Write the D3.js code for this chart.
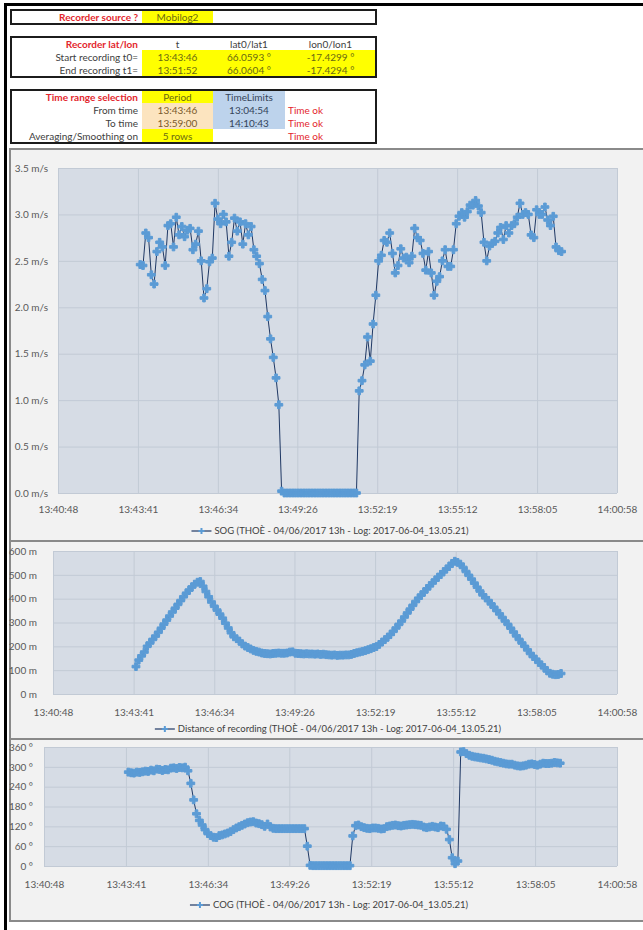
<!DOCTYPE html>
<html><head><meta charset="utf-8">
<script src="https://cdn.jsdelivr.net/npm/d3@7"></script>
<style>
html,body{margin:0;padding:0;background:#fff;overflow:hidden;}
svg{display:block;font-family:Lato,"Open Sans",sans-serif;}
</style></head><body>
<svg id="c" width="643" height="930"></svg>
<script>
// ---------------- DATA ----------------
const times = [
"13:43:46","13:43:52","13:43:58","13:44:04","13:44:10","13:44:16","13:44:22","13:44:28","13:44:34","13:44:40",
"13:44:46","13:44:52","13:44:58","13:45:04","13:45:10","13:45:16","13:45:22","13:45:28","13:45:34","13:45:40",
"13:45:46","13:45:52","13:45:58","13:46:04","13:46:10","13:46:16","13:46:22","13:46:28","13:46:34","13:46:40",
"13:46:46","13:46:52","13:46:58","13:47:04","13:47:10","13:47:16","13:47:22","13:47:28","13:47:34","13:47:40",
"13:47:46","13:47:52","13:47:58","13:48:04","13:48:10","13:48:16","13:48:22","13:48:28","13:48:34","13:48:40",
"13:48:46","13:48:52","13:48:58","13:49:04","13:49:10","13:49:16","13:49:22","13:49:28","13:49:34","13:49:40",
"13:49:46","13:49:52","13:49:58","13:50:04","13:50:10","13:50:16","13:50:22","13:50:28","13:50:34","13:50:40",
"13:50:46","13:50:52","13:50:58","13:51:04","13:51:10","13:51:16","13:51:22","13:51:28","13:51:34","13:51:40",
"13:51:46","13:51:52","13:51:58","13:52:04","13:52:10","13:52:16","13:52:22","13:52:28","13:52:34","13:52:40",
"13:52:46","13:52:52","13:52:58","13:53:04","13:53:10","13:53:16","13:53:22","13:53:28","13:53:34","13:53:40",
"13:53:46","13:53:52","13:53:58","13:54:04","13:54:10","13:54:16","13:54:22","13:54:28","13:54:34","13:54:40",
"13:54:46","13:54:52","13:54:58","13:55:04","13:55:10","13:55:16","13:55:22","13:55:28","13:55:34","13:55:40",
"13:55:46","13:55:52","13:55:58","13:56:04","13:56:10","13:56:16","13:56:22","13:56:28","13:56:34","13:56:40",
"13:56:46","13:56:52","13:56:58","13:57:04","13:57:10","13:57:16","13:57:22","13:57:28","13:57:34","13:57:40",
"13:57:46","13:57:52","13:57:58","13:58:04","13:58:10","13:58:16","13:58:22","13:58:28","13:58:34","13:58:40",
"13:58:46","13:58:52","13:58:58"];

const sogValues = [
2.46,2.45,2.80,2.75,2.35,2.25,2.60,2.70,2.65,2.45,
2.88,2.90,2.65,2.97,2.78,2.87,2.76,2.83,2.85,2.62,
2.68,2.82,2.50,2.10,2.20,2.49,2.53,3.12,2.95,2.90,
3.00,2.92,2.55,2.70,2.96,2.82,2.92,2.68,2.90,2.78,
2.87,2.62,2.55,2.47,2.30,2.18,1.90,1.66,1.46,1.24,
0.95,0.02,0,0,0,0,0,0,0,0,
0,0,0,0,0,0,0,0,0,0,
0,0,0,0,0,0,0,0,0,1.10,
1.21,1.38,1.68,1.42,1.82,2.13,2.50,2.56,2.72,2.70,
2.80,2.58,2.37,2.45,2.63,2.53,2.54,2.48,2.55,2.85,
2.75,2.72,2.58,2.40,2.60,2.37,2.13,2.28,2.33,2.50,
2.62,2.44,2.44,2.62,2.90,2.98,3.02,2.97,3.03,3.10,
3.10,3.15,3.09,3.02,2.70,2.50,2.66,2.69,2.71,2.80,
2.86,2.73,2.88,2.80,2.88,2.90,2.97,3.12,3.00,3.02,
3.00,2.78,2.75,3.05,3.00,3.00,3.08,2.94,2.88,2.98,
2.65,2.61,2.60];

const distValues = [
115,142,160,176,200,214,229,243,259,276,
293,310,327,344,360,376,392,408,423,436,
449,461,469,472,452,430,408,386,368,352,
335,318,297,277,257,240,232,222,210,201,
195,189,183,179,176,172,170,169,168,170,
171,172,171,171,172,176,177,171,170,169,
168,169,168,168,167,168,166,167,165,164,
163,164,162,163,163,164,164,166,170,173,
176,179,182,186,190,195,199,208,218,228,
238,250,263,277,292,306,323,340,356,372,
388,402,415,428,441,454,466,478,490,501,
513,524,536,548,557,552,545,531,514,498,
482,465,448,432,416,404,392,378,364,350,
336,321,306,292,276,260,244,229,214,200,
185,170,157,146,133,122,110,97,87,83,
81,82,86];

const cogValues = [
284,282,281,284,283,285,287,286,290,288,
293,292,289,292,291,296,297,295,298,297,
299,288,250,200,158,138,124,110,98,92,
87,86,92,94,97,100,104,110,115,119,
123,127,131,133,134,130,128,125,120,127,
118,114,113,113,113,113,113,113,113,113,
113,113,113,60,2,1,1,1,1,1,
1,1,1,1,1,1,1,1,1,91,
122,124,119,116,114,113,115,115,114,112,
113,119,121,123,124,122,121,123,124,125,
126,125,124,123,118,116,118,120,118,116,
121,120,111,80,25,7,15,345,346,340,
335,332,330,329,327,326,324,322,320,317,
315,313,311,309,308,308,305,303,302,303,
305,308,309,307,305,308,311,310,310,311,
313,312,311];

const xTickLabels = ["13:40:48","13:43:41","13:46:34","13:49:26","13:52:19","13:55:12","13:58:05","14:00:58"];
const sogTicks = [0,0.5,1,1.5,2,2.5,3,3.5];
const distTicks = [0,100,200,300,400,500,600];
const cogTicks = [0,60,120,180,240,300,360];

const sogLegend = "SOG (THOÈ - 04/06/2017 13h - Log: 2017-06-04_13.05.21)";
const distLegend = "Distance of recording (THOÈ - 04/06/2017 13h - Log: 2017-06-04_13.05.21)";
const cogLegend = "COG (THOÈ - 04/06/2017 13h - Log: 2017-06-04_13.05.21)";

// Tables
const sourceRow = ["Recorder source ?", "Mobilog2"];
const latLonHeader = ["Recorder lat/lon", "t", "lat0/lat1", "lon0/lon1"];
const latLonRows = [
  ["Start recording t0=", "13:43:46", "66.0593 °", "-17.4299 °"],
  ["End recording t1=", "13:51:52", "66.0604 °", "-17.4294 °"]];
const rangeHeader = ["Time range selection", "Period", "TimeLimits", ""];
const rangeRows = [
  ["From time", "13:43:46", "13:04:54", "Time ok"],
  ["To time", "13:59:00", "14:10:43", "Time ok"],
  ["Averaging/Smoothing on", "5 rows", "", "Time ok"]];

// ---------------- DRAW ----------------
const svg = d3.select("#c");
const toSec = s => { const p = s.split(":").map(Number); return p[0]*3600 + p[1]*60 + p[2]; };

const RED = "#e3262d", OLIVE = "#6a6a12", GRAY = "#404040";
const YEL = "#ffff00", BLUE = "#bdd3ec", PEACH = "#fce4bf";
const colL = 140, c1 = [142, 213], c2 = [213, 285], c3 = [285, 376];
const ctr = c => (c[0] + c[1]) / 2;

// page frame lines
svg.append("rect").attr("x", 4).attr("y", 3).attr("width", 643).attr("height", 3).attr("fill", "#000");
svg.append("rect").attr("x", 4).attr("y", 3).attr("width", 3).attr("height", 927).attr("fill", "#000");

function txt(x, y, s, opts) {
  opts = opts || {};
  svg.append("text").attr("x", x).attr("y", y).attr("dy", "0.35em")
    .attr("text-anchor", opts.anchor || "middle")
    .attr("font-size", opts.size || 10)
    .attr("font-weight", opts.bold ? 700 : 400)
    .attr("fill", opts.color || GRAY).text(s);
}
function cell(c, y0, y1, fill) {
  svg.append("rect").attr("x", c[0]).attr("y", y0).attr("width", c[1] - c[0]).attr("height", y1 - y0).attr("fill", fill);
}
function box(y0, y1) {
  svg.append("rect").attr("x", 11).attr("y", y0).attr("width", 365).attr("height", y1 - y0)
    .attr("fill", "none").attr("stroke", "#1c1c1c").attr("stroke-width", 2);
}

// Box 1
cell(c1, 11, 23, YEL);
txt(colL - 2, 17, sourceRow[0], {anchor: "end", bold: true, color: RED});
txt(ctr(c1), 17, sourceRow[1], {color: OLIVE});
box(10, 24);

// Box 2
cell([c1[0], 375], 50, 76, YEL);
txt(colL - 2, 44, latLonHeader[0], {anchor: "end", bold: true, color: RED});
txt(ctr(c1), 44, latLonHeader[1]);
txt(ctr(c2), 44, latLonHeader[2]);
txt(ctr(c3), 44, latLonHeader[3]);
latLonRows.forEach((r, i) => {
  const y = 57 + i * 13;
  txt(colL - 2, y, r[0], {anchor: "end"});
  txt(ctr(c1), y, r[1], {color: OLIVE});
  txt(ctr(c2), y, r[2], {color: OLIVE});
  txt(ctr(c3), y, r[3], {color: OLIVE});
});
box(37, 77);

// Box 3
cell(c1, 90, 103, YEL);
cell(c2, 90, 129, BLUE);
cell(c1, 103, 129, PEACH);
cell(c1, 129, 142, YEL);
txt(colL - 2, 97, rangeHeader[0], {anchor: "end", bold: true, color: RED});
txt(ctr(c1), 97, rangeHeader[1], {color: OLIVE});
txt(ctr(c2), 97, rangeHeader[2], {color: "#34445a"});
rangeRows.forEach((r, i) => {
  const y = 110 + i * 13;
  txt(colL - 2, y, r[0], {anchor: "end"});
  txt(ctr(c1), y, r[1], {color: i < 2 ? "#7a5a2a" : OLIVE});
  txt(ctr(c2), y, r[2], {color: "#34445a"});
  txt(288, y, r[3], {anchor: "start", color: RED});
});
box(90, 143);

// ---------------- CHARTS ----------------
const xTickSecs = xTickLabels.map(toSec);

function drawChart(cfg) {
  const g = svg.append("g");
  g.append("rect").attr("x", 10).attr("y", cfg.fy0).attr("width", 660).attr("height", cfg.fy1 - cfg.fy0)
    .attr("fill", "#f2f2f2").attr("stroke", "#8a8a8a").attr("stroke-width", 2);

  const x = d3.scaleLinear().domain([xTickSecs[0], xTickSecs[xTickSecs.length - 1]]).range([cfg.px0, cfg.px1]);
  const y = d3.scaleLinear().domain([cfg.ticks[0], cfg.ticks[cfg.ticks.length - 1]]).range([cfg.py1, cfg.py0]);

  g.append("rect").attr("x", cfg.px0).attr("y", cfg.py0).attr("width", cfg.px1 - cfg.px0).attr("height", cfg.py1 - cfg.py0)
    .attr("fill", "#d6dce5");

  // grid
  const gx = g.append("g").attr("transform", `translate(0,${cfg.py1})`)
    .call(d3.axisBottom(x).tickValues(xTickSecs).tickSize(-(cfg.py1 - cfg.py0)).tickFormat(""));
  const gy = g.append("g").attr("transform", `translate(${cfg.px0},0)`)
    .call(d3.axisLeft(y).tickValues(cfg.ticks).tickSize(-(cfg.px1 - cfg.px0)).tickFormat(""));
  [gx, gy].forEach(a => { a.select(".domain").remove(); a.selectAll("line").attr("stroke", "#c2cad5").attr("stroke-width", 1); });

  // axis labels
  const ax = g.append("g").attr("transform", `translate(0,${cfg.py1})`)
    .call(d3.axisBottom(x).tickValues(xTickSecs).tickSize(0).tickPadding(cfg.xPad).tickFormat((d, i) => xTickLabels[i]));
  const ay = g.append("g").attr("transform", `translate(${cfg.px0},0)`)
    .call(d3.axisLeft(y).tickValues(cfg.ticks).tickSize(0).tickPadding(cfg.px0 - cfg.labelRight).tickFormat(cfg.fmt));
  [ax, ay].forEach(a => {
    a.select(".domain").remove();
    a.selectAll("text").attr("font-family", "Lato, 'Open Sans', sans-serif").attr("font-size", 10).attr("fill", "#595959");
  });

  const data = times.map((t, i) => ({t: toSec(t), v: cfg.values[i]})).filter(d => d.v !== undefined);
  const line = d3.line().x(d => x(d.t)).y(d => y(d.v));
  g.append("path").datum(data).attr("d", line).attr("fill", "none").attr("stroke", "#1f3864").attr("stroke-width", 1);
  const sym = d3.symbol().type(d3.symbolCross).size(34);
  g.append("g").selectAll("path").data(data).join("path")
    .attr("transform", d => `translate(${x(d.t)},${y(d.v)})`).attr("d", sym)
    .attr("fill", "#5b9bd5").attr("stroke", "#5b9bd5").attr("stroke-width", 1);

  // legend
  const lg = g.append("g");
  const lt = lg.append("text").attr("x", 23).attr("y", 0).attr("dy", "0.35em").attr("font-size", 9.5).attr("fill", "#404040").text(cfg.legend);
  lg.append("line").attr("x1", 0).attr("x2", 20).attr("y1", 0).attr("y2", 0).attr("stroke", "#1f3864").attr("stroke-width", 1.2);
  lg.append("path").attr("transform", "translate(10,0)").attr("d", d3.symbol().type(d3.symbolCross).size(20)).attr("fill", "#5b9bd5");
  const w = 23 + lt.node().getComputedTextLength();
  lg.attr("transform", `translate(${cfg.legendCx - w / 2},${cfg.legendY})`);
}

drawChart({fy0: 149, fy1: 541, px0: 58, px1: 617, py0: 168, py1: 493, ticks: sogTicks, values: sogValues,
  fmt: d => d.toFixed(1) + " m/s", labelRight: 48, xPad: 13, legend: sogLegend, legendY: 531, legendCx: 330});
drawChart({fy0: 541, fy1: 739, px0: 53, px1: 617, py0: 551, py1: 694, ticks: distTicks, values: distValues,
  fmt: d => d + " m", labelRight: 37, xPad: 15, legend: distLegend, legendY: 729, legendCx: 328});
drawChart({fy0: 739, fy1: 921, px0: 44, px1: 617, py0: 747, py1: 866, ticks: cogTicks, values: cogValues,
  fmt: d => d + " °", labelRight: 33, xPad: 15, legend: cogLegend, legendY: 905, legendCx: 329});
</script>
</body></html>
